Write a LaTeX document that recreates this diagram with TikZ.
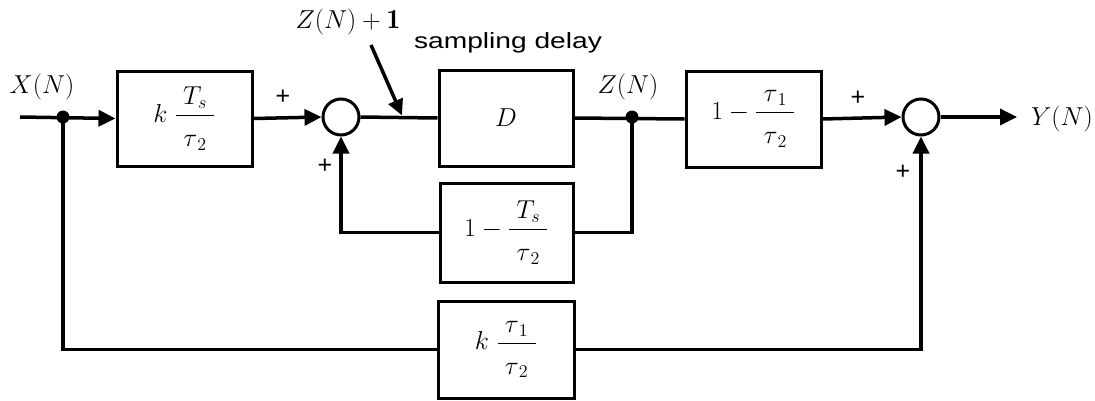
\documentclass[tikz,border=0pt]{standalone}
\usepackage{fontspec}
\usepackage{amsmath}
\newfontfamily\labelsans{Liberation Sans}
\usetikzlibrary{arrows.meta}
\newcommand\blkfrac[2]{\dfrac{\;#1\;}{\rule{0pt}{0.99em}\;#2\;}}
\newcommand\enlargetxt[1]{\scalebox{1.25}{#1}}
\begin{document}
\begin{tikzpicture}[x=1pt,y=-1pt,
  wire/.style={line width=3.5pt},
  arr/.style={wire,-{Triangle[length=17pt,width=16pt]}},
  block/.style={draw,line width=3pt,inner sep=0pt,font=\fontsize{22}{26}\selectfont},
  sumnode/.style={circle,draw,line width=3pt,minimum size=36pt,inner sep=0pt},
  jdot/.style={circle,fill,minimum size=13pt,inner sep=0pt},
  sig/.style={font=\fontsize{22}{26}\selectfont},
  plus/.style={font=\labelsans\fontsize{25}{28}\selectfont}]
\useasboundingbox (0,0) rectangle (1095,400);
% nodes
\coordinate (in) at (20,117);
\node[jdot] (j1) at (63,117) {};
\node[block,minimum width=135pt,minimum height=95pt] (b1) at (184.5,118.5) {\enlargetxt{$k\;\blkfrac{T_s}{\tau_{\,2}}$}};
\node[sumnode] (s1) at (341,117) {};
\node[block,minimum width=134pt,minimum height=96pt] (d) at (506,118) {\enlargetxt{$D$}};
\node[jdot] (j2) at (632,117) {};
\node[block,minimum width=135pt,minimum height=96pt] (b3) at (753.5,119) {\enlargetxt{$1-\blkfrac{\tau_{\,1}}{\tau_{\,2}}$}};
\node[sumnode] (s2) at (921,117) {};
\coordinate (out) at (1017,117);
\node[block,minimum width=133pt,minimum height=99pt] (fb) at (506.5,232.5) {\enlargetxt{$1-\blkfrac{T_s}{\tau_{\,2}}$}};
\node[block,minimum width=136pt,minimum height=97pt] (kb) at (506,349.5) {\enlargetxt{$k\;\blkfrac{\tau_{\,1}}{\tau_{\,2}}$}};
% labels
\node[sig] (lx) at (42,87) {\enlargetxt{$X(N)$}};
\node[sig] (lz) at (628,87) {\enlargetxt{$Z(N)$}};
\node[sig] (ly) at (1062,119) {\enlargetxt{$Y(N)$}};
\node[sig] (lz1) at (348,22) {\enlargetxt{$Z(N)+\mathbf{1}$}};
\node[font=\labelsans\fontsize{22}{26}\selectfont] (ls) at (508,43) {\scalebox{1.28}[1]{sampling delay}};
\node[plus] (p1) at (283,97) {+};
\node[plus] (p2) at (325,166) {+};
\node[plus] (p3) at (858,98) {+};
\node[plus] (p4) at (903,172) {+};
% connectors
\draw[arr] (in) -- (b1.west);
\draw[arr] (b1.east) -- (s1.west);
\draw[wire] (s1.east) -- (d.west);
\draw[wire] (d.east) -- (b3.west);
\draw[arr] (b3.east) -- (s2.west);
\draw[arr] (s2.east) -- (out);
\draw[wire] (j2.center) |- (fb.east);
\draw[arr] (fb.west) -| (s1.south);
\draw[wire] (j1.center) |- (kb.west);
\draw[arr] (kb.east) -| (s2.south);
\coordinate (a0) at (371,45);
\coordinate (a1) at (402,115.5);
\draw[line width=3.5pt,-{Triangle[length=16pt,width=15pt]}] (a0) -- (a1);
\end{tikzpicture}
\end{document}
